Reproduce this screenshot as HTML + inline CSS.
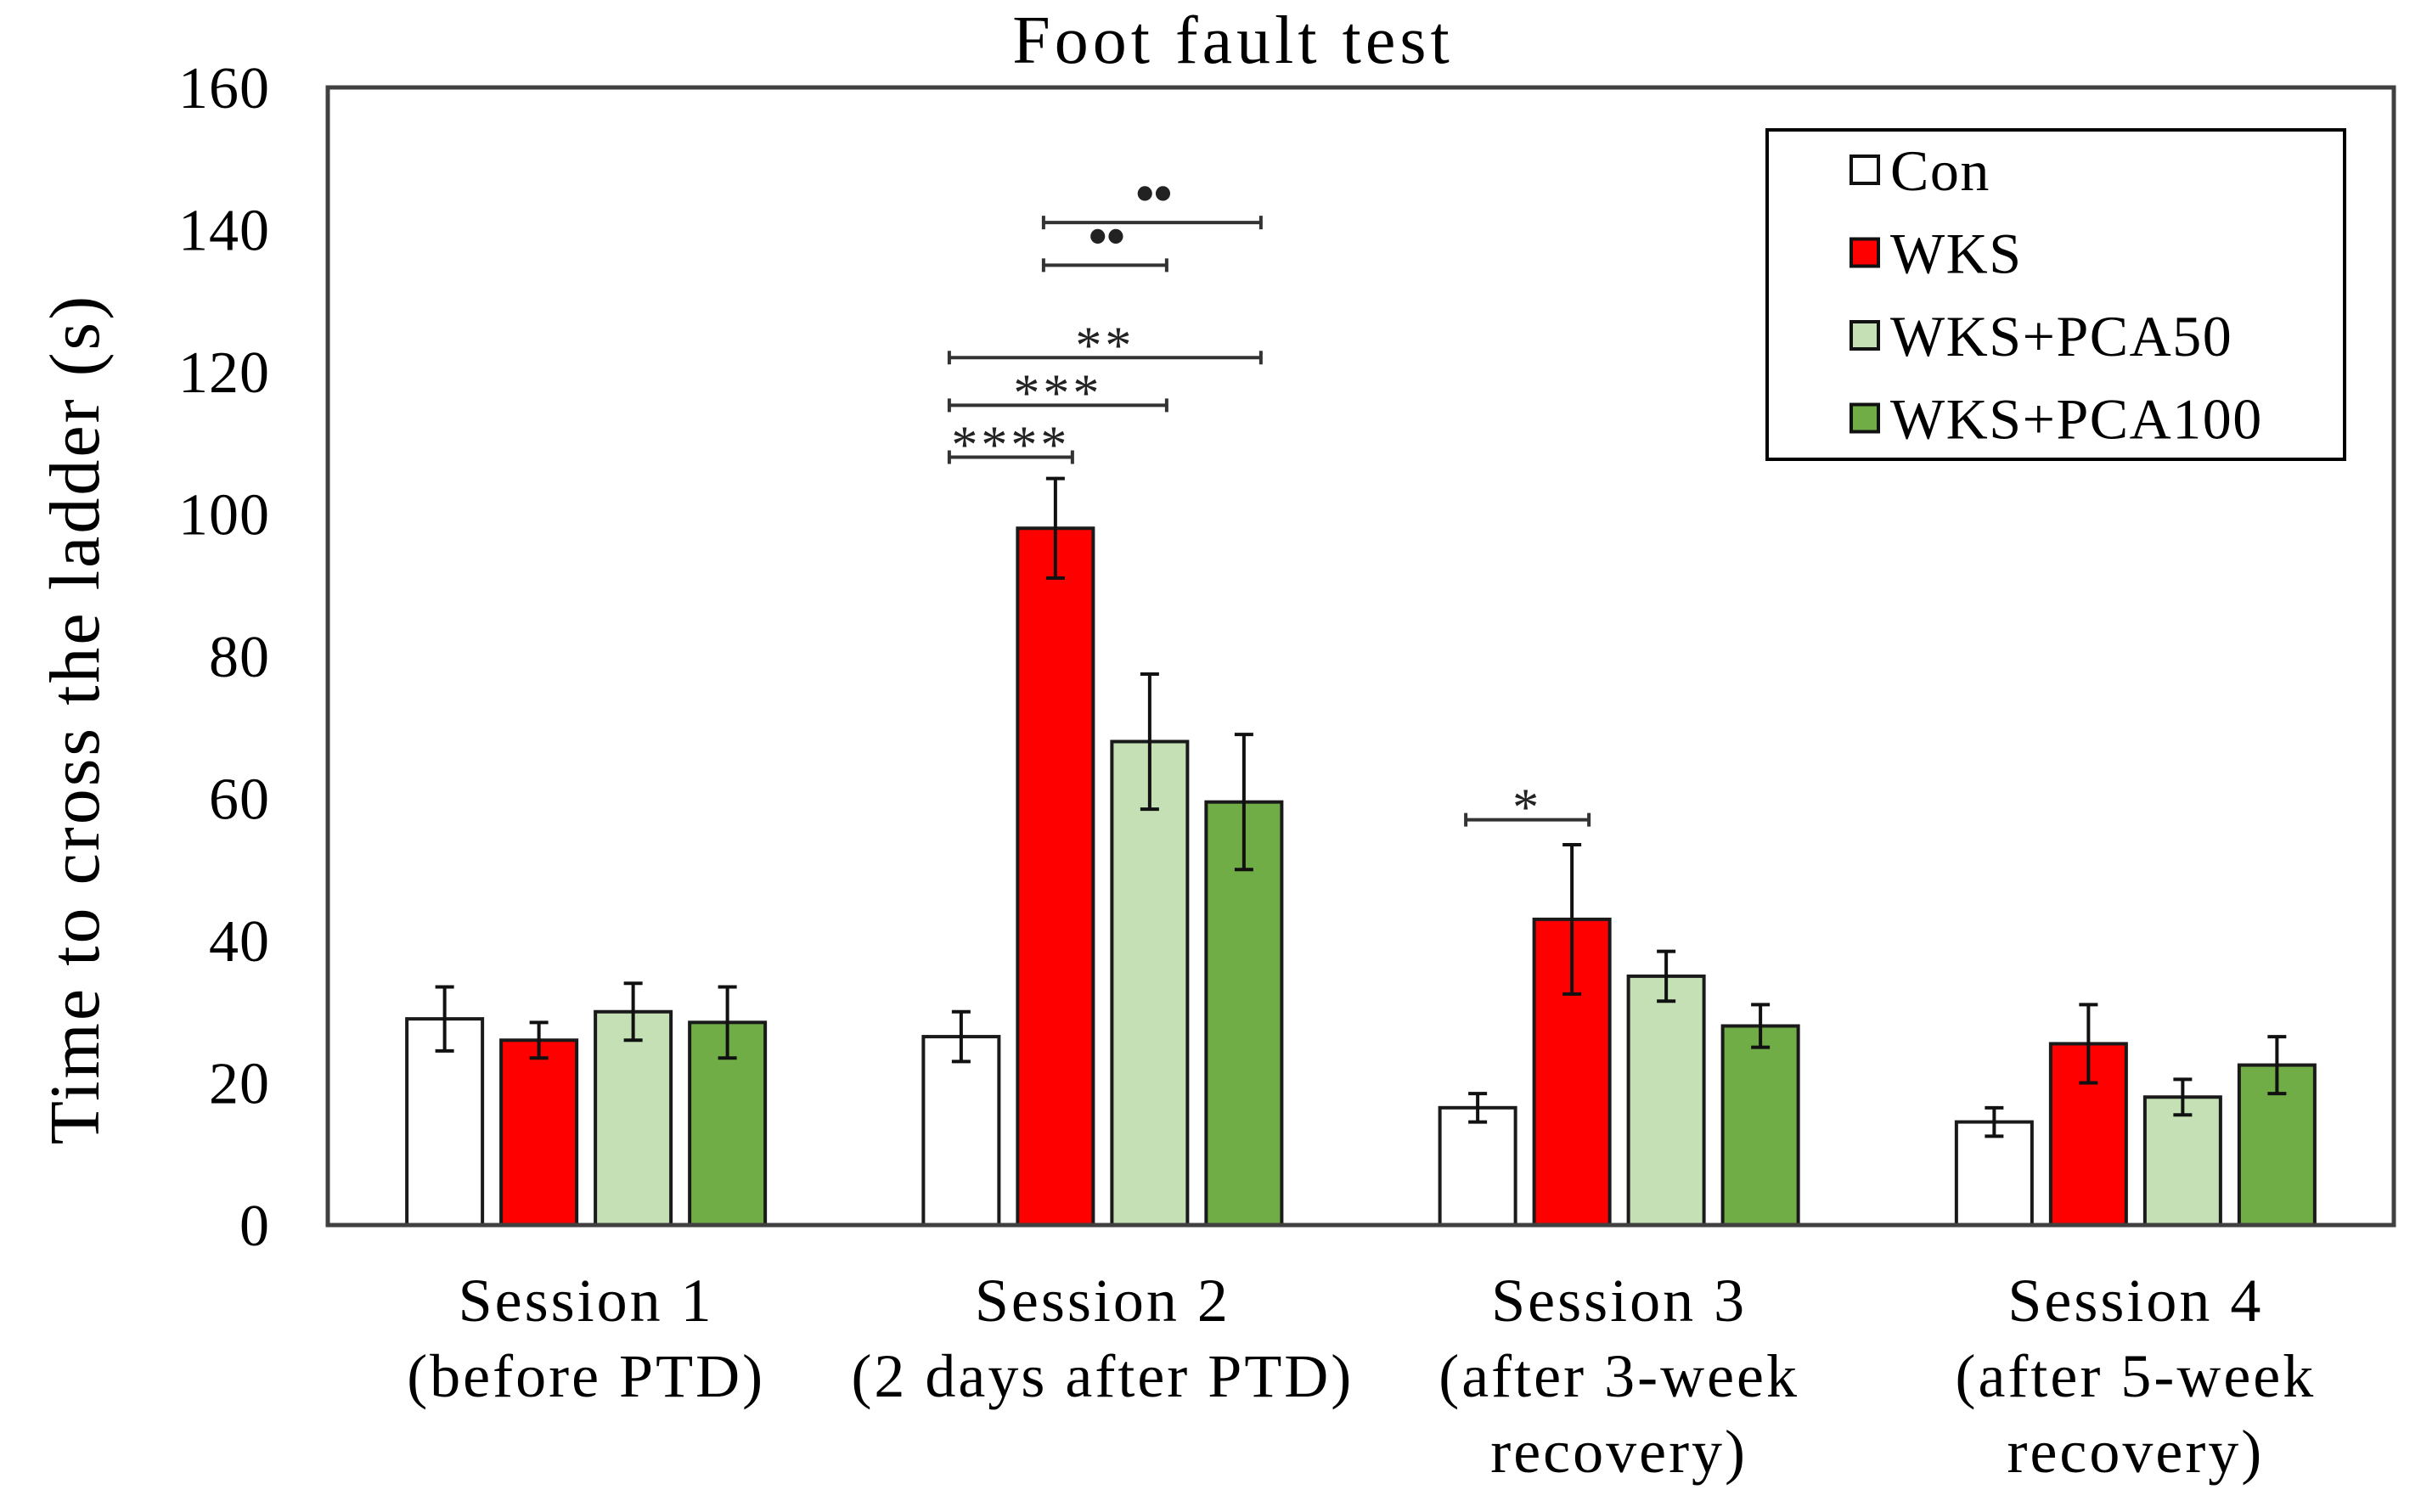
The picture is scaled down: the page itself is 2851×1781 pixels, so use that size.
<!DOCTYPE html>
<html><head><meta charset="utf-8"><style>
html,body{margin:0;padding:0;background:#fff;}
svg{display:block;font-family:"Liberation Serif",serif;}
</style></head><body>
<svg id="chart" width="2851" height="1781" viewBox="0 0 2851 1781" xmlns="http://www.w3.org/2000/svg">
<text x="1452" y="74" font-size="80" letter-spacing="5" text-anchor="middle" fill="#000">Foot fault test</text>
<text transform="translate(116,847) rotate(-90)" font-size="84" letter-spacing="3" text-anchor="middle" fill="#000">Time to cross the ladder (s)</text>
<g id="bars"></g>
<g id="sig"></g>
<rect x="386" y="103" width="2433" height="1340" fill="none" stroke="#404040" stroke-width="5"/>
<g id="ticks"></g>
<g id="xlabels"></g>
<g>
<rect x="2081" y="153" width="680" height="388" fill="#fff" stroke="#000" stroke-width="4"/>
<g id="legend"></g>
</g>
</svg>
<script>
const categories=[["Session 1","(before PTD)"],["Session 2","(2 days after PTD)"],["Session 3","(after 3-week","recovery)"],["Session 4","(after 5-week","recovery)"]];
const seriesNames=["Con","WKS","WKS+PCA50","WKS+PCA100"];
const seriesColors=["#ffffff","#ff0000","#c5e0b4","#70ad47"];
const conVals=[29,26.5,16.5,14.5];
const wksVals=[26,98,43,25.5];
const pca50Vals=[30,68,35,18];
const pca100Vals=[28.5,59.5,28,22.5];
const conErr=[4.5,3.5,2,2];
const wksErr=[2.5,7,10.5,5.5];
const pca50Err=[4,9.5,3.5,2.5];
const pca100Err=[5,9.5,3,4];
const yTicks=[0,20,40,60,80,100,120,140,160];
// significance: [group, fromBar, toBar, yValue, label]
const sigBrackets=[[1,1,3,141,"••"],[1,1,2,135,"••"],[1,0,3,122,"**"],[1,0,2,115.3,"***"],[1,0,1,108,"****"],[2,0,1,57,"*"]];

const NS="http://www.w3.org/2000/svg";
const L=386,R=2819,T=103,B=1443,YMAX=160;
const y=v=>B-(v/YMAX)*(B-T);
const gw=(R-L)/categories.length;
const bw=89,pitch=111;
const xc=(g,s)=>L+gw*(g+0.5)+(s-1.5)*pitch;
function el(tag,attrs,parent){const e=document.createElementNS(NS,tag);for(const k in attrs)e.setAttribute(k,attrs[k]);parent.appendChild(e);return e;}
const vals=[conVals,wksVals,pca50Vals,pca100Vals];
const errs=[conErr,wksErr,pca50Err,pca100Err];
const gb=document.getElementById('bars');
for(let s=0;s<4;s++){for(let g=0;g<categories.length;g++){
  const v=vals[s][g],e=errs[s][g],cx=xc(g,s);
  const r=el('rect',{x:cx-bw/2,y:y(v),width:bw,height:B-y(v),fill:seriesColors[s],stroke:"#1a1a1a","stroke-width":4},gb);
  
  
  const eb=el('path',{d:`M${cx},${y(v+e)}V${y(v-e)}M${cx-11},${y(v+e)}H${cx+11}M${cx-11},${y(v-e)}H${cx+11}`,stroke:"#111","stroke-width":4,fill:"none"},gb);
  
  
}}
const gs=document.getElementById('sig');
sigBrackets.forEach((b,i)=>{
  const x1=xc(b[0],b[1])-14,x2=xc(b[0],b[2])+20,yy=y(b[3]);
  const p=el('path',{d:`M${x1},${yy}H${x2}M${x1},${yy-8}V${yy+8}M${x2},${yy-8}V${yy+8}`,stroke:"#333","stroke-width":4,fill:"none"},gs);
  
  
  const isDot=b[4].indexOf('•')>=0;
  const t=el('text',{x:(x1+x2)/2,y:isDot?yy-10:yy+6,"font-size":isDot?72:62,"letter-spacing":isDot?-4:4,"text-anchor":"middle",fill:"#222"},gs);
  t.textContent=b[4];
  
  
});
const gt=document.getElementById('ticks');
yTicks.forEach(v=>{
  const t=el('text',{x:318,y:y(v)+24,"font-size":70,"letter-spacing":1,"text-anchor":"end",fill:"#000"},gt);
  t.textContent=v;
  
  
});
const gx=document.getElementById('xlabels');
categories.forEach((lines,g)=>{
  lines.forEach((ln,k)=>{
    const t=el('text',{x:L+gw*(g+0.5),y:1556+k*89,"font-size":72,"letter-spacing":3,"text-anchor":"middle",fill:"#000"},gx);
    t.textContent=ln;
    
    
  });
});
const gl=document.getElementById('legend');
seriesNames.forEach((n,i)=>{
  const yy=200+i*97.5;
  const r=el('rect',{x:2180,y:yy-16,width:32,height:32,fill:seriesColors[i],stroke:"#111","stroke-width":4},gl);
  
  
  const t=el('text',{x:2226,y:yy+24,"font-size":68,"letter-spacing":1.5,fill:"#000"},gl);
  t.textContent=n;
  
  
});
</script>
</body></html>
